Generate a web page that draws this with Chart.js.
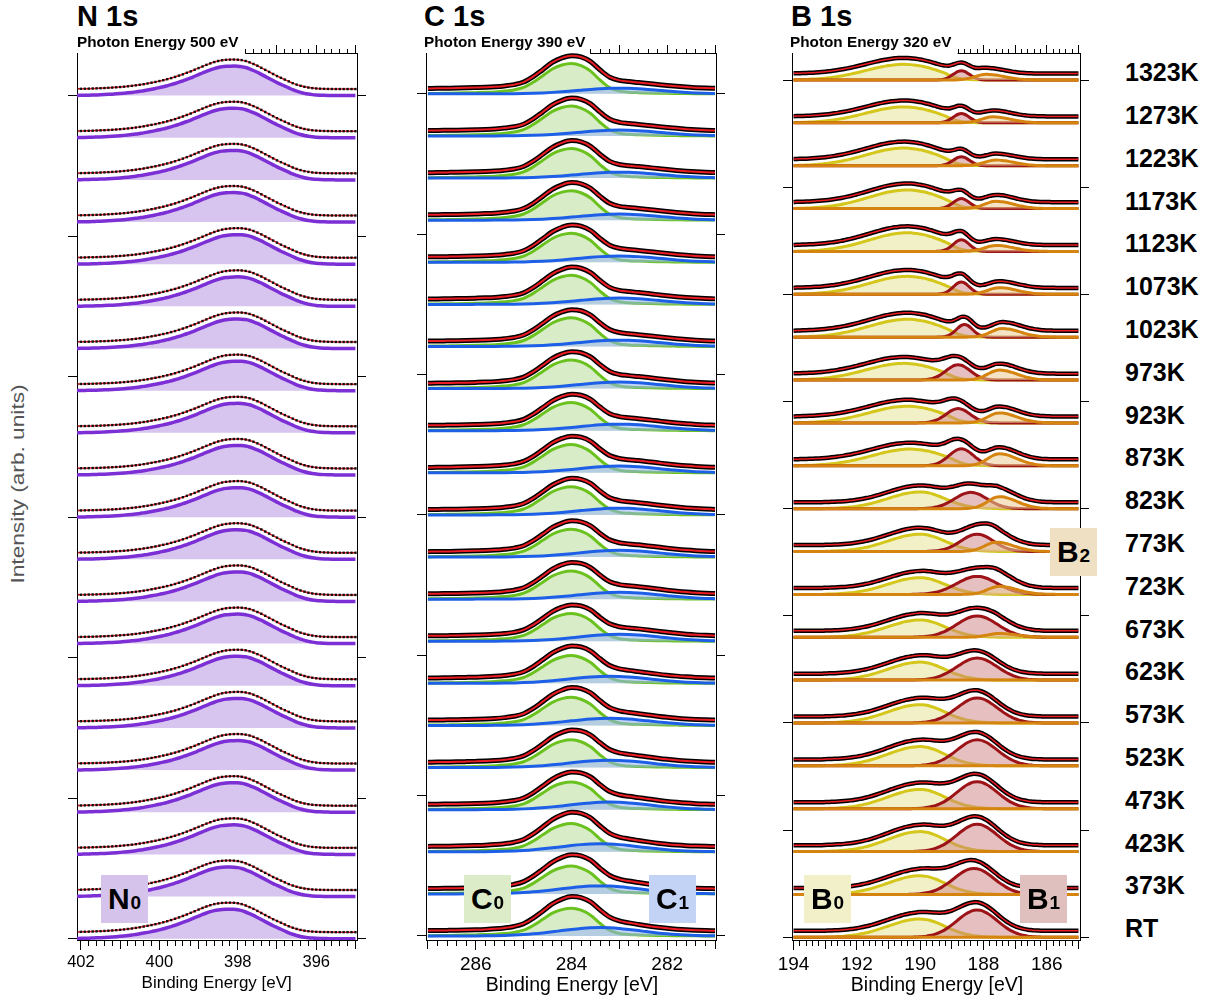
<!DOCTYPE html>
<html>
<head>
<meta charset="utf-8">
<script src="https://cdn.jsdelivr.net/npm/chart.js@4.4.0/dist/chart.umd.min.js"></script>
<style>
    body { margin: 0; width: 1215px; height: 1003px; position: relative; overflow: hidden; background: #fff;
           font-family: "Liberation Sans", Arial, Helvetica, sans-serif; color: #000; }
    canvas { position: absolute; }
    .t { position: absolute; white-space: nowrap; line-height: 1; }
    .b { font-weight: bold; }
    .tag { position: absolute; width: 47px; height: 48px; display: flex; align-items: center; justify-content: center;
           font-weight: bold; font-size: 30px; line-height: 1; }
    .tag sub { font-size: 19px; vertical-align: baseline; position: relative; top: 3px; margin-left: 1px; }
</style>
</head>
<body>
<canvas id="n1s" width="340" height="947" style="left:47px; top:33px"></canvas>
<canvas id="c1s" width="350" height="947" style="left:396px; top:33px"></canvas>
<canvas id="b1s" width="348" height="947" style="left:762px; top:33px"></canvas>

<div class="t b" style="left:77px; top:1.5px; font-size:29px">N 1s</div>
<div class="t b" style="left:424px; top:1.5px; font-size:29px">C 1s</div>
<div class="t b" style="left:791px; top:1.5px; font-size:29px">B 1s</div>
<div class="t b" style="left:77px; top:33.5px; font-size:15.3px">Photon Energy 500 eV</div>
<div class="t b" style="left:424px; top:33.5px; font-size:15.3px">Photon Energy 390 eV</div>
<div class="t b" style="left:790px; top:33.5px; font-size:15.3px">Photon Energy 320 eV</div>

<div class="t" style="left:216.7px; top:974px; font-size:17px; transform:translateX(-50%)">Binding Energy [eV]</div>
<div class="t" style="left:572px; top:974.5px; font-size:19.5px; transform:translateX(-50%)">Binding Energy [eV]</div>
<div class="t" style="left:937px; top:974.5px; font-size:19.5px; transform:translateX(-50%)">Binding Energy [eV]</div>
<div class="t" style="left:18px; top:484px; font-size:18px; color:#555; transform:translate(-50%,-50%) rotate(-90deg) scaleX(1.26)">Intensity (arb. units)</div>

<div class="tag" style="left:101px; top:875px; background:#d5c3ec">N<sub>0</sub></div>
<div class="tag" style="left:464px; top:875px; background:#dcecc9">C<sub>0</sub></div>
<div class="tag" style="left:649px; top:875px; background:#c3d3f6">C<sub>1</sub></div>
<div class="tag" style="left:804px; top:875px; background:#f1f0c9">B<sub>0</sub></div>
<div class="tag" style="left:1020px; top:875px; background:#dfc0bf">B<sub>1</sub></div>
<div class="tag" style="left:1050px; top:528px; background:#efe0c4">B<sub>2</sub></div>

<div id="temps"></div>

<script>
// spectra from top to bottom
const TEMPS = ["1323K", "1273K", "1223K", "1173K", "1123K", "1073K", "1023K", "973K", "923K", "873K",
               "823K", "773K", "723K", "673K", "623K", "573K", "523K", "473K", "423K", "373K", "RT"];

// ---- N 1s : one component, 0.1 eV steps, shape peak at 398.0 eV
const N_STEP = 0.1;
const N_FROM = 395.5;
const N_SHAPE = [0.002, 0.004, 0.007, 0.012, 0.02, 0.032, 0.05, 0.075, 0.11, 0.15, 0.2, 0.26, 0.32, 0.38, 0.44,
                 0.51, 0.58, 0.65, 0.72, 0.79, 0.85, 0.905, 0.95, 0.98, 0.995, 1,
                 0.997, 0.99, 0.975, 0.95, 0.915, 0.87, 0.82, 0.765, 0.71, 0.655, 0.6, 0.55, 0.5, 0.455, 0.41,
                 0.37, 0.335, 0.3, 0.27, 0.24, 0.215, 0.19, 0.165, 0.145, 0.125, 0.108, 0.093, 0.08, 0.068,
                 0.058, 0.049, 0.041, 0.034, 0.028, 0.023, 0.018, 0.014, 0.011, 0.008, 0.006, 0.004];
const N_AMP = [0.70, 0.70, 0.70, 0.70, 0.70, 0.70, 0.70, 0.70, 0.70, 0.70, 0.70,
               0.70, 0.70, 0.70, 0.70, 0.70, 0.70, 0.70, 0.70, 0.70, 0.70];
const N_SHIFT = [1, 1, 1, 1, 0, 0, 0, 0, 0, 0, 0, 0, 0, 0, 0, 0, 0, 1, 1, 2, 2];
const N_BG = 0.155;
const N_LABELS = [402, 400, 398, 396];

// ---- C 1s : C0 (green) and C1 (blue), 0.2 eV steps
const C_STEP = 0.2;
const C0_FROM = 281.0;
const C0_SHAPE = [0.002, 0.003, 0.005, 0.008, 0.012, 0.016, 0.022, 0.03, 0.04, 0.055, 0.09, 0.2, 0.45, 0.75, 0.93, 1,
                  0.95, 0.82, 0.6, 0.38, 0.21, 0.13, 0.09, 0.065, 0.05, 0.04, 0.032, 0.025, 0.02, 0.015, 0.012];
const C1_FROM = 280.0;
const C1_SHAPE = [0.002, 0.004, 0.009, 0.019, 0.035, 0.063, 0.106, 0.17, 0.258, 0.369, 0.5, 0.642, 0.779, 0.895, 0.973, 1,
                  0.973, 0.895, 0.779, 0.642, 0.5, 0.369, 0.258, 0.17, 0.106, 0.063, 0.035, 0.019, 0.009, 0.004, 0.002];
const C0_AMP = [0.72, 0.71, 0.70, 0.70, 0.69, 0.69, 0.68, 0.68, 0.67, 0.67, 0.67,
                0.66, 0.67, 0.66, 0.66, 0.67, 0.66, 0.66, 0.67, 0.66, 0.66];
const C0_SHIFT = [0, 0, 0, 0, 0, 0, 0, 0, 0, 0, 0, 0, 0, 0, 0, 0, 0, 0, 0, 0, 0];
const C1_AMP = [0.135, 0.14, 0.14, 0.145, 0.15, 0.15, 0.15, 0.155, 0.155, 0.16, 0.16,
                0.16, 0.165, 0.165, 0.17, 0.17, 0.175, 0.18, 0.19, 0.19, 0.2];
const C1_SHIFT = [0, 0, 0, 0, 0, 0, 0, 0, 0, 0, 0, 0, 0, 0, 1, 1, 1, 1, 2, 2, 2];
const C_BG = 0.12;
const C_LABELS = [286, 284, 282];

// ---- B 1s : B0 (yellow), B1 (dark red), B2 (orange), 0.1 eV steps
const B_STEP = 0.1;
const B0_HOT = [0.006, 0.01, 0.014, 0.02, 0.03, 0.04, 0.055, 0.08, 0.12, 0.17, 0.25, 0.33, 0.42, 0.5, 0.57, 0.64,
                0.70, 0.76, 0.81, 0.86, 0.90, 0.93, 0.96, 0.98, 0.995, 1,
                0.997, 0.986, 0.970, 0.947, 0.919, 0.885, 0.847, 0.805, 0.760, 0.712, 0.664, 0.614, 0.564, 0.515,
                0.466, 0.420, 0.375, 0.333, 0.294, 0.258, 0.224, 0.194, 0.166, 0.142, 0.120, 0.101, 0.084, 0.070,
                0.058, 0.047, 0.038, 0.031, 0.025, 0.020, 0.016];
const B0_COLD = [0.008, 0.012, 0.018, 0.025, 0.036, 0.049, 0.067, 0.090, 0.118, 0.153, 0.195, 0.245, 0.301, 0.365,
                 0.435, 0.509, 0.587, 0.665, 0.741, 0.812, 0.875, 0.928, 0.967, 0.992, 1,
                 0.995, 0.981, 0.958, 0.926, 0.887, 0.841, 0.790, 0.735, 0.677, 0.618, 0.559, 0.500, 0.444, 0.390,
                 0.339, 0.292, 0.249, 0.211, 0.176, 0.146, 0.120, 0.098, 0.079, 0.063, 0.050, 0.039, 0.030, 0.023,
                 0.018, 0.013];
const B1_A = [0.007, 0.023, 0.063, 0.146, 0.292, 0.5, 0.735, 0.926, 1, 0.926, 0.735, 0.5, 0.292, 0.146, 0.063, 0.023, 0.007];
const B1_B = [0.007, 0.016, 0.033, 0.063, 0.112, 0.187, 0.291, 0.425, 0.578, 0.735, 0.872, 0.966, 1,
              0.966, 0.872, 0.735, 0.578, 0.425, 0.291, 0.187, 0.112, 0.063, 0.033, 0.016, 0.007];
const B1_C = [0.007, 0.013, 0.023, 0.039, 0.063, 0.098, 0.146, 0.21, 0.292, 0.39, 0.5, 0.618, 0.735, 0.841, 0.926, 0.981, 1,
              0.981, 0.926, 0.841, 0.735, 0.618, 0.5, 0.39, 0.292, 0.21, 0.146, 0.098, 0.063, 0.039, 0.023, 0.013, 0.007];
const B1_D = [0.007, 0.011, 0.018, 0.028, 0.042, 0.063, 0.089, 0.124, 0.169, 0.225, 0.291, 0.368, 0.454, 0.547, 0.642,
              0.735, 0.821, 0.895, 0.952, 0.988, 1, 0.988, 0.952, 0.895, 0.821, 0.735, 0.642, 0.547, 0.454, 0.368,
              0.291, 0.225, 0.169, 0.124, 0.089, 0.063, 0.042, 0.028, 0.018, 0.011, 0.007];
const B2_SHAPE = [0.008, 0.015, 0.024, 0.039, 0.061, 0.093, 0.135, 0.191, 0.262, 0.347, 0.445, 0.552, 0.662, 0.768,
                  0.862, 0.936, 0.984, 1, 0.962, 0.857, 0.707, 0.540, 0.382, 0.250, 0.152, 0.085, 0.044, 0.021, 0.009];
const B0_SHAPES = [B0_HOT, B0_COLD];
const B0_FROMS = [188.0, 187.6];
const B1_SHAPES = [B1_A, B1_B, B1_C, B1_D];
const B1_FROMS = [187.9, 187.5, 186.8, 186.2];
const B2_FROM = 185.8;

const B0_KIND = [0, 0, 0, 0, 0, 0, 0, 0, 0, 0, 1, 1, 1, 1, 1, 1, 1, 1, 1, 1, 1];
const B0_SHIFT = [0, 0, 0, -1, -1, -1, -1, 0, -1, -2, 0, 0, 0, 0, 0, 0, 0, 0, 0, 0, 0];
const B0_AMP = [0.366, 0.373, 0.413, 0.436, 0.436, 0.42, 0.42, 0.39, 0.39, 0.39, 0.39,
                0.404, 0.39, 0.404, 0.42, 0.427, 0.45, 0.45, 0.467, 0.436, 0.427];
const B1_KIND = [0, 0, 0, 0, 0, 0, 0, 1, 1, 1, 2, 2, 3, 3, 3, 3, 3, 3, 3, 3, 3];
const B1_SHIFT = [0, 0, 0, 0, 0, 0, -1, 1, 1, 0, 0, -2, 0, 0, 0, 0, 0, 0, 0, 1, 0];
const B1_AMP = [0.217, 0.217, 0.21, 0.233, 0.273, 0.287, 0.296, 0.357, 0.334, 0.397, 0.38,
                0.404, 0.42, 0.497, 0.513, 0.583, 0.607, 0.63, 0.637, 0.607, 0.637];
const B2_SHIFT = [4, 2, 1, 1, 1, 0, -1, 0, 0, 0, 0, 1, 0, 0, 0, 0, 0, 0, 0, 0, 0];
const B2_AMP = [0.133, 0.14, 0.133, 0.17, 0.14, 0.156, 0.203, 0.233, 0.233, 0.28, 0.28,
                0.217, 0.187, 0.09, 0, 0, 0, 0, 0, 0, 0];
const B_BG = 0.15;
const B_LABELS = [194, 192, 190, 188, 186];

const RED = "#ec1c24";

function grid (from, to, step) {
    const out = [];
    for (let k = Math.round(from / step); k <= Math.round(to / step); k++) out.push(+(k * step).toFixed(2));
    return out;
}

// value of a stored shape at energy e (grid aligned, shift in grid steps)
function take (shape, from, step, shift, e) {
    const j = Math.round((e - from) / step) - shift;
    return j >= 0 && j < shape.length ? shape[j] : 0;
}

function base (i) { return TEMPS.length - 1 - i; }

function line (data, color, width, extra) {
    return Object.assign({
        data: data, borderColor: color, borderWidth: width, pointRadius: 0, fill: false,
        cubicInterpolationMode: "monotone",
    }, extra || {});
}

function comp (energies, values, b, color, fillColor, width) {
    return line(energies.map((e, k) => ({ x: e, y: b + values[k] })), color, width,
                { fill: { value: b }, backgroundColor: fillColor });
}

function ordered (list) {
    list.forEach((d, k) => { d.order = list.length - k; });
    return list;
}

function nDatasets () {
    const E = grid(395.0, 402.1, N_STEP);
    const out = [];
    TEMPS.forEach((t, i) => {
        const b = base(i);
        const v = E.map(e => N_AMP[i] * take(N_SHAPE, N_FROM, N_STEP, N_SHIFT[i], e));
        const env = E.map((e, k) => ({ x: e, y: b + N_BG + v[k] }));
        out.push(comp(E, v, b, "#7b2fd5", "#d7c5ef", 3.5));
        out.push(line(env, RED, 1.5));
        out.push({ data: env, showLine: false, pointStyle: "rect", pointRadius: 1.7,
                   pointBackgroundColor: "#111", pointBorderWidth: 0 });
    });
    return ordered(out);
}

function cDatasets () {
    const E = grid(281.0, 287.0, C_STEP);
    const out = [];
    TEMPS.forEach((t, i) => {
        const b = base(i);
        const g = E.map(e => C0_AMP[i] * take(C0_SHAPE, C0_FROM, C_STEP, C0_SHIFT[i], e));
        const u = E.map(e => C1_AMP[i] * take(C1_SHAPE, C1_FROM, C_STEP, C1_SHIFT[i], e));
        const env = E.map((e, k) => ({ x: e, y: b + C_BG + g[k] + u[k] }));
        out.push(comp(E, g, b, "#6bc21e", "#d9ecc8", 3));
        out.push(comp(E, u, b, "#1d5fe6", "rgba(150, 180, 245, 0.55)", 3));
        out.push(line(env, "#000", 5));
        out.push(line(env, RED, 2));
    });
    return ordered(out);
}

function bDatasets () {
    const E = grid(185.0, 194.0, B_STEP);
    const out = [];
    TEMPS.forEach((t, i) => {
        const b = base(i);
        const y0 = E.map(e => B0_AMP[i] * take(B0_SHAPES[B0_KIND[i]], B0_FROMS[B0_KIND[i]], B_STEP, B0_SHIFT[i], e));
        const y1 = E.map(e => B1_AMP[i] * take(B1_SHAPES[B1_KIND[i]], B1_FROMS[B1_KIND[i]], B_STEP, B1_SHIFT[i], e));
        const y2 = E.map(e => B2_AMP[i] * take(B2_SHAPE, B2_FROM, B_STEP, B2_SHIFT[i], e));
        const env = E.map((e, k) => ({ x: e, y: b + B_BG + y0[k] + y1[k] + y2[k] }));
        out.push(comp(E, y0, b, "#d4c61a", "#f2f0c6", 3));
        out.push(comp(E, y1, b, "#9c1418", "rgba(205, 130, 130, 0.5)", 3));
        out.push(comp(E, y2, b, "#d5840f", "rgba(235, 205, 150, 0.55)", 3));
        out.push(line(env, "#000", 4.5));
        out.push(line(env, RED, 1.5));
    });
    return ordered(out);
}

// partial top axis line, starting where the photon energy text ends
const topLine = {
    id: "topLine",
    afterDraw (chart, args, opts) {
        const s = chart.scales.x2, a = chart.chartArea, ctx = chart.ctx;
        ctx.save();
        ctx.strokeStyle = "#000";
        ctx.lineWidth = 1;
        ctx.beginPath();
        ctx.moveTo(s.getPixelForValue(opts.from) - 0.5, a.top + 0.5);
        ctx.lineTo(a.right + 0.5, a.top + 0.5);
        ctx.stroke();
        ctx.restore();
    },
};

const near = (a, b) => Math.abs(a - b) < 1e-6;
const isInt = v => near(v, Math.round(v));

function panel (id, datasets, p) {
    const bottom = [], top = [];
    for (let k = Math.ceil(p.min * 5 - 1e-6); k <= Math.floor(p.max * 5 + 1e-6); k++) {
        bottom.push({ value: k / 5 });
        if (k / 5 <= p.topFrom + 1e-6) top.push({ value: k / 5 });
    }
    const isLabel = v => p.labels.some(l => near(l, v));
    const font = { family: "'Liberation Sans', Arial, sans-serif", size: p.tickSize };
    const yAxis = (pos) => ({
        type: "linear", position: pos, min: p.yMin, max: p.yMax,
        afterFit: s => { s.width = 30; s.paddingTop = 0; s.paddingBottom = 0; },
        afterBuildTicks: s => { s.ticks = p.yTicks.map(v => ({ value: v })); },
        ticks: { display: false },
        grid: { drawOnChartArea: false, tickLength: 9, color: "#000", tickColor: "#000" },
        border: { display: true, color: "#000", width: 1 },
    });
    return new Chart(document.getElementById(id), {
        type: "line",
        data: { datasets: datasets },
        plugins: [topLine],
        options: {
            responsive: false,
            animation: false,
            events: [],
            parsing: false,
            layout: { padding: 0 },
            plugins: { legend: { display: false }, tooltip: { enabled: false }, topLine: { from: p.topFrom } },
            scales: {
                x: {
                    type: "linear", position: "bottom", reverse: true, min: p.min, max: p.max,
                    afterFit: s => { s.height = 40; s.paddingLeft = 0; s.paddingRight = 0; },
                    afterBuildTicks: s => { s.ticks = bottom.slice(); },
                    ticks: {
                        autoSkip: false, maxRotation: 0, padding: 3, color: "#000", font: font,
                        callback: v => isLabel(v) ? String(Math.round(v)) : "",
                    },
                    grid: {
                        drawOnChartArea: false, tickLength: 10, color: "#000", tickColor: "#000",
                        tickBorderDash: c => isLabel(c.tick.value) ? [] : (isInt(c.tick.value) ? [8, 20] : [5, 20]),
                    },
                    border: { display: true, color: "#000", width: 1 },
                },
                x2: {
                    type: "linear", position: "top", reverse: true, min: p.min, max: p.max,
                    afterFit: s => { s.height = 20; s.paddingLeft = 0; s.paddingRight = 0; },
                    afterBuildTicks: s => { s.ticks = top.slice(); },
                    ticks: { display: false },
                    grid: {
                        drawOnChartArea: false, tickLength: 8, color: "#000", tickColor: "#000",
                        tickBorderDash: c => isInt(c.tick.value) ? [] : [4, 4],
                        tickBorderDashOffset: c => isInt(c.tick.value) ? 0 : 4,
                    },
                    border: { display: false },
                },
                y: yAxis("left"),
                y2: yAxis("right"),
            },
        },
    });
}

const THIRDS = [0, 10 / 3, 20 / 3, 10, 40 / 3, 50 / 3, 20];
const QUARTERS = [0, 2.5, 5, 7.5, 10, 12.5, 15, 17.5, 20];

panel("n1s", nDatasets(), { min: 394.96, max: 402.1, topFrom: 397.8, labels: N_LABELS, tickSize: 16.5,
                            yMin: -0.031, yMax: 21.01, yTicks: THIRDS });
panel("c1s", cDatasets(), { min: 280.98, max: 287.04, topFrom: 283.6, labels: C_LABELS, tickSize: 19,
                            yMin: -0.095, yMax: 20.97, yTicks: THIRDS });
panel("b1s", bDatasets(), { min: 184.95, max: 194.05, topFrom: 188.8, labels: B_LABELS, tickSize: 19,
                            yMin: -0.063, yMax: 20.63, yTicks: QUARTERS });

// temperature column on the right
const holder = document.getElementById("temps");
TEMPS.forEach((t, i) => {
    const d = document.createElement("div");
    d.className = "t b";
    d.style.cssText = "left:1125px; font-size:25px; top:" + (81.4 + 42.8 * i - 21.2).toFixed(1) + "px";
    d.textContent = t;
    holder.appendChild(d);
});
</script>
</body>
</html>
